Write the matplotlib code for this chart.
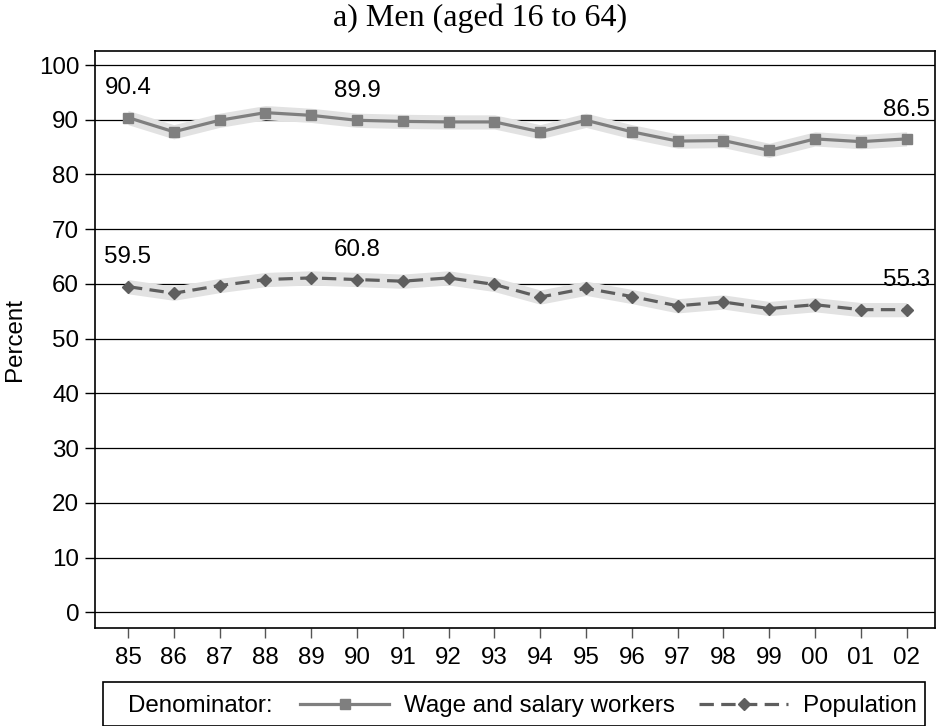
import numpy as np
import matplotlib
matplotlib.use('Agg')
import matplotlib.pyplot as plt
from matplotlib.patches import Rectangle

# data
years = [85, 86, 87, 88, 89, 90, 91, 92, 93, 94, 95, 96, 97, 98, 99, 100, 101, 102]
year_labels = ['85', '86', '87', '88', '89', '90', '91', '92', '93', '94',
               '95', '96', '97', '98', '99', '00', '01', '02']

wage = [90.4, 87.8, 89.9, 91.3, 90.8, 89.9, 89.7, 89.6, 89.6, 87.8,
        89.9, 87.8, 86.1, 86.2, 84.4, 86.5, 86.0, 86.5]
wage_lo = [89.1, 86.5, 88.6, 90.0, 89.5, 88.6, 88.4, 88.3, 88.3, 86.5,
           88.6, 86.5, 84.8, 84.9, 83.1, 85.2, 84.7, 85.2]
wage_hi = [91.7, 89.1, 91.2, 92.6, 92.1, 91.2, 91.0, 90.9, 90.9, 89.1,
           91.2, 89.1, 87.4, 87.5, 85.7, 87.8, 87.3, 87.8]

pop = [59.5, 58.3, 59.7, 60.8, 61.1, 60.8, 60.5, 61.1, 59.9, 57.6,
       59.2, 57.7, 56.0, 56.7, 55.5, 56.2, 55.3, 55.3]
pop_lo = [58.2, 57.0, 58.4, 59.5, 59.8, 59.5, 59.2, 59.8, 58.6, 56.3,
          57.9, 56.4, 54.7, 55.4, 54.2, 54.9, 54.0, 54.0]
pop_hi = [60.8, 59.6, 61.0, 62.1, 62.4, 62.1, 61.8, 62.4, 61.2, 58.9,
          60.5, 59.0, 57.3, 58.0, 56.8, 57.5, 56.6, 56.6]

label_idx = [0, 5, 17]

plt.rcParams['font.family'] = ['Liberation Sans', 'DejaVu Sans']
fs = 17.4

fig = plt.figure(figsize=(9.36, 7.26), dpi=100)
ax = fig.add_axes([95/936, 1 - 628/726, (935 - 95)/936, (628 - 51)/726])

# gridlines
ax.set_yticks(range(0, 101, 10))
ax.yaxis.grid(True, color='black', lw=0.9, zorder=0)
ax.set_axisbelow(True)

# confidence bands
ax.fill_between(years, wage_lo, wage_hi, color='#e2e2e2', lw=0, zorder=1)
ax.fill_between(years, pop_lo, pop_hi, color='#e2e2e2', lw=0, zorder=1)

l1, = ax.plot(years, wage, color='#7f7f7f', lw=2.3, marker='s', ms=7,
              zorder=3, label='Wage and salary workers')
l2, = ax.plot(years, pop, color='#5e5e5e', lw=2.3, marker='D', ms=6.5,
              dashes=(4.5, 2.3), zorder=3, label='Population')

for i in label_idx:
    ax.annotate('%.1f' % wage[i], (years[i], wage[i]), xytext=(0, 21),
                textcoords='offset points', ha='center', va='center', fontsize=fs)
    ax.annotate('%.1f' % pop[i], (years[i], pop[i]), xytext=(0, 21),
                textcoords='offset points', ha='center', va='center', fontsize=fs)

ax.set_xlim(84.28, 102.62)
ax.set_ylim(-2.87, 102.56)
ax.set_xticks(years)
ax.set_xticklabels(year_labels, fontsize=fs)
ax.tick_params(axis='x', length=7, width=1, color='#555555', pad=7)
ax.tick_params(axis='y', length=7.5, width=1, labelsize=fs, pad=4)
ax.set_ylabel('Percent', fontsize=fs, labelpad=9)
for s in ax.spines.values():
    s.set_linewidth(1.2)

fig.text(480/936, 1 - 18/726, 'a) Men (aged 16 to 64)', ha='center', va='center',
         fontsize=23, family='Liberation Serif')

# legend box in Stata style
fig.patches.append(Rectangle((103/936, 0), (925 - 103)/936, 1 - 682/726 + 0.0,
                             transform=fig.transFigure, fill=False,
                             ec='black', lw=1.2))
fig.text(128/936, 1 - 706/726, 'Denominator:', ha='left', va='center', fontsize=fs)
fig.legend(handles=[l1, l2], loc='center left',
           bbox_to_anchor=(300/936, 1 - 706/726), ncol=2, frameon=False,
           fontsize=fs, handlelength=3.7, handletextpad=0.6, columnspacing=1.0,
           borderpad=0, borderaxespad=0, numpoints=1)

fig.savefig('out.png', dpi=100)
